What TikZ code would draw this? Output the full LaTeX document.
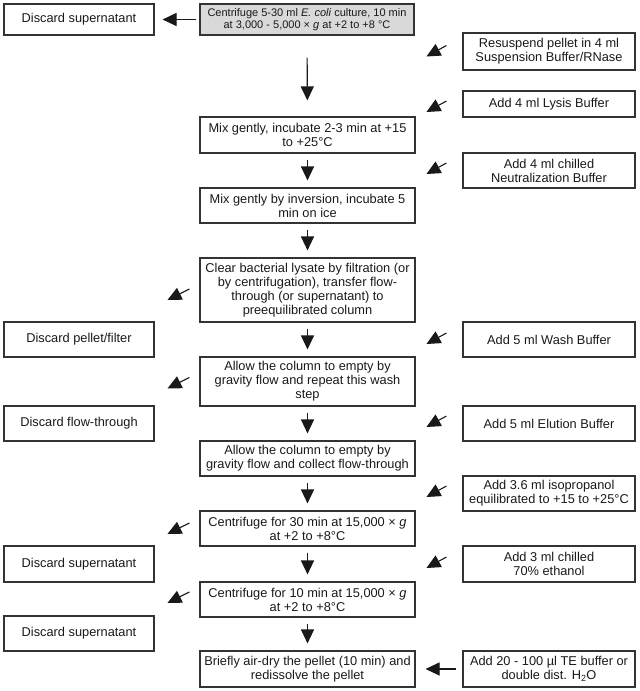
\documentclass[tikz,border=0pt]{standalone}
\usepackage{fontspec}
\setmainfont{Liberation Sans}
\usetikzlibrary{arrows.meta}

\begin{document}
\begin{tikzpicture}[x=1pt,y=-1pt,
  box/.style={draw=black!80,line width=1.1pt,inner sep=0pt,align=center,
    minimum height=35pt,text=black!90,font=\fontsize{12.8}{14}\selectfont},
  lbox/.style={box,minimum width=150pt},
  cbox/.style={box,minimum width=215pt},
  rbox/.style={box,minimum width=172pt},
  arr/.style={-{Triangle[length=14pt,width=13pt]},line width=1.1pt,black!90}]
\useasboundingbox (0,0) rectangle (640,691);
\node[lbox,minimum height=31pt] (D1) at (79,19.5) {Discard supernatant};
\node[cbox,minimum width=214pt,minimum height=31pt,fill=black!15,font=\fontsize{11}{12}\selectfont] (C1) at (307,19.5) {Centrifuge 5-30 ml \textit{E. coli} culture, 10 min\\at 3,000 - 5,000 × \textit{g} at +2 to +8 °C};
\node[rbox,minimum height=37pt] (R1) at (549,51.5) {Resuspend pellet in 4 ml\\Suspension Buffer/RNase};
\node[rbox,minimum height=26pt] (R2) at (549,104) {Add 4 ml Lysis Buffer};
\node[cbox,minimum height=36pt] (C2) at (307.5,135) {Mix gently, incubate 2-3 min at +15\\to +25°C};
\node[rbox] (R3) at (549,170.5) {Add 4 ml chilled\\Neutralization Buffer};
\node[cbox] (C3) at (307.5,205.5) {Mix gently by inversion, incubate 5\\min on ice};
\node[cbox,minimum height=64pt] (C4) at (307.5,290) {Clear bacterial lysate by filtration (or\\by centrifugation), transfer flow-\\through (or supernatant) to\\preequilibrated column};
\node[lbox] (D2) at (79,339.5) {Discard pellet/filter};
\node[rbox] (R4) at (549,339.5) {Add 5 ml Wash Buffer};
\node[cbox,minimum height=49pt] (C5) at (307.5,381.5) {Allow the column to empty by\\gravity flow and repeat this wash\\step};
\node[lbox] (D3) at (79,423.5) {Discard flow-through};
\node[rbox] (R5) at (549,423.5) {Add 5 ml Elution Buffer};
\node[cbox] (C6) at (307.5,458.5) {Allow the column to empty by\\gravity flow and collect flow-through};
\node[rbox] (R6) at (549,493.5) {Add 3.6 ml isopropanol\\equilibrated to +15 to +25°C};
\node[cbox] (C7) at (307.5,528.5) {Centrifuge for 30 min at 15,000 × \textit{g}\\at +2 to +8°C};
\node[lbox,minimum height=36pt] (D4) at (79,564) {Discard supernatant};
\node[rbox,minimum height=36pt] (R7) at (549,564) {Add 3 ml chilled\\70\% ethanol};
\node[cbox] (C8) at (307.5,599.5) {Centrifuge for 10 min at 15,000 × \textit{g}\\at +2 to +8°C};
\node[lbox] (D5) at (79,633.5) {Discard supernatant};
\node[cbox,minimum height=36pt] (C9) at (307.5,669) {Briefly air-dry the pellet (10 min) and\\redissolve the pellet};
\node[rbox,minimum height=36pt] (R8) at (549,669) {Add 20 - 100 µl TE buffer or\\double dist. H\textsubscript{2}O};
% main flow
\draw[arr,shorten <=22pt,shorten >=16pt] (C1)--(C2);
\draw[arr,shorten <=6pt,shorten >=7pt] (C2)--(C3);
\draw[arr,shorten <=6pt,shorten >=7pt] (C3)--(C4);
\draw[arr,shorten <=6pt,shorten >=7pt] (C4)--(C5);
\draw[arr,shorten <=6pt,shorten >=7pt] (C5)--(C6);
\draw[arr,shorten <=6pt,shorten >=7pt] (C6)--(C7);
\draw[arr,shorten <=6pt,shorten >=7pt] (C7)--(C8);
\draw[arr,shorten <=6pt,shorten >=7pt] (C8)--(C9);
\draw[arr,shorten <=3pt,shorten >=8pt] (C1)--(D1);
\draw[arr,shorten <=6pt,shorten >=10pt] (R8)--(C9);
% additions and discards
\draw[arr] ([xshift=-16pt,yshift=6pt]R1.west)--++(-20,11);
\draw[arr] ([xshift=-16pt,yshift=3pt]R2.west)--++(-20,11);
\draw[arr] ([xshift=-16pt,yshift=7.5pt]R3.west)--++(-20,11);
\draw[arr] ([xshift=-16pt,yshift=6.5pt]R4.west)--++(-20,11);
\draw[arr] ([xshift=-16pt,yshift=7.5pt]R5.west)--++(-20,11);
\draw[arr] ([xshift=-16pt,yshift=7.5pt]R6.west)--++(-20,11);
\draw[arr] ([xshift=-16pt,yshift=7pt]R7.west)--++(-20,11);
\draw[arr] ([xshift=-10pt,yshift=1pt]C4.west)--++(-22,11);
\draw[arr] ([xshift=-10pt,yshift=4pt]C5.west)--++(-22,11);
\draw[arr] ([xshift=-10pt,yshift=5.5pt]C7.west)--++(-22,11);
\draw[arr] ([xshift=-10pt,yshift=7.5pt]C8.west)--++(-22,11);
\end{tikzpicture}
\end{document}
